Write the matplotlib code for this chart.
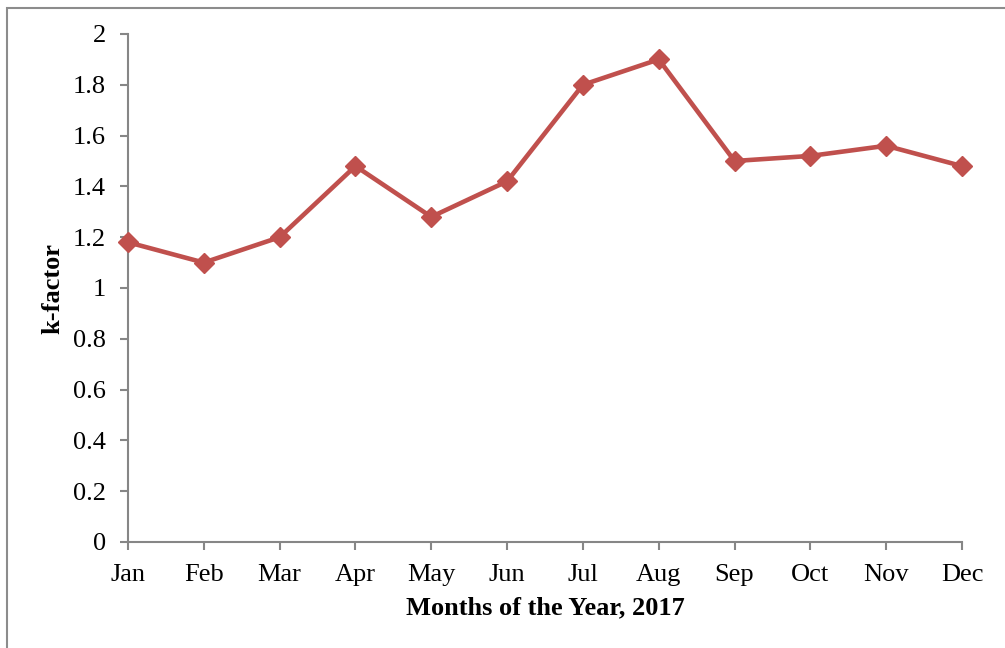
import matplotlib
matplotlib.use("Agg")
import matplotlib.pyplot as plt
from matplotlib.patches import Rectangle

months = ["Jan", "Feb", "Mar", "Apr", "May", "Jun",
          "Jul", "Aug", "Sep", "Oct", "Nov", "Dec"]
k_factor = [1.18, 1.10, 1.20, 1.48, 1.28, 1.42,
            1.80, 1.90, 1.50, 1.52, 1.56, 1.48]
y_ticks = [0, 0.2, 0.4, 0.6, 0.8, 1, 1.2, 1.4, 1.6, 1.8, 2]
y_tick_labels = ["0", "0.2", "0.4", "0.6", "0.8", "1", "1.2", "1.4", "1.6", "1.8", "2"]

plt.rcParams["font.family"] = ["Liberation Serif", "DejaVu Serif"]

W, H = 1005, 648
fig = plt.figure(figsize=(W / 100, H / 100), dpi=100)
fig.patch.set_facecolor("white")

# outer frame of the chart area
fig.add_artist(Rectangle((7 / W, -0.05), 1.2, 1 - 8 / H + 0.05,
                         transform=fig.transFigure, fill=False,
                         edgecolor="#8c8c8c", linewidth=1.5))

ax = fig.add_axes([128 / W, 1 - 542 / H, (962 - 128) / W, (542 - 34) / H])
x = list(range(len(months)))
ax.plot(x, k_factor, color="#C0504D", linewidth=3.3, marker="D",
        markersize=10, markeredgecolor="#C0504D", clip_on=False, zorder=3)

ax.set_xlim(0, len(months) - 1)
ax.set_ylim(0, 2)
ax.set_xticks(x)
ax.set_xticklabels(months)
ax.set_yticks(y_ticks)
ax.set_yticklabels(y_tick_labels)

for side in ("top", "right"):
    ax.spines[side].set_visible(False)
for side in ("left", "bottom"):
    ax.spines[side].set_color("#868686")
    ax.spines[side].set_linewidth(1.5)

ax.tick_params(axis="both", direction="out", length=6, width=1.5,
               color="#868686", labelsize=19, labelcolor="black")
ax.tick_params(axis="x", pad=10)
ax.tick_params(axis="y", pad=10)

ax.set_xlabel("Months of the Year, 2017", fontsize=19, fontweight="bold", labelpad=7)
ax.set_ylabel("k-factor", fontsize=19, fontweight="bold", labelpad=6)

fig.savefig("out.png", dpi=100, facecolor="white")
